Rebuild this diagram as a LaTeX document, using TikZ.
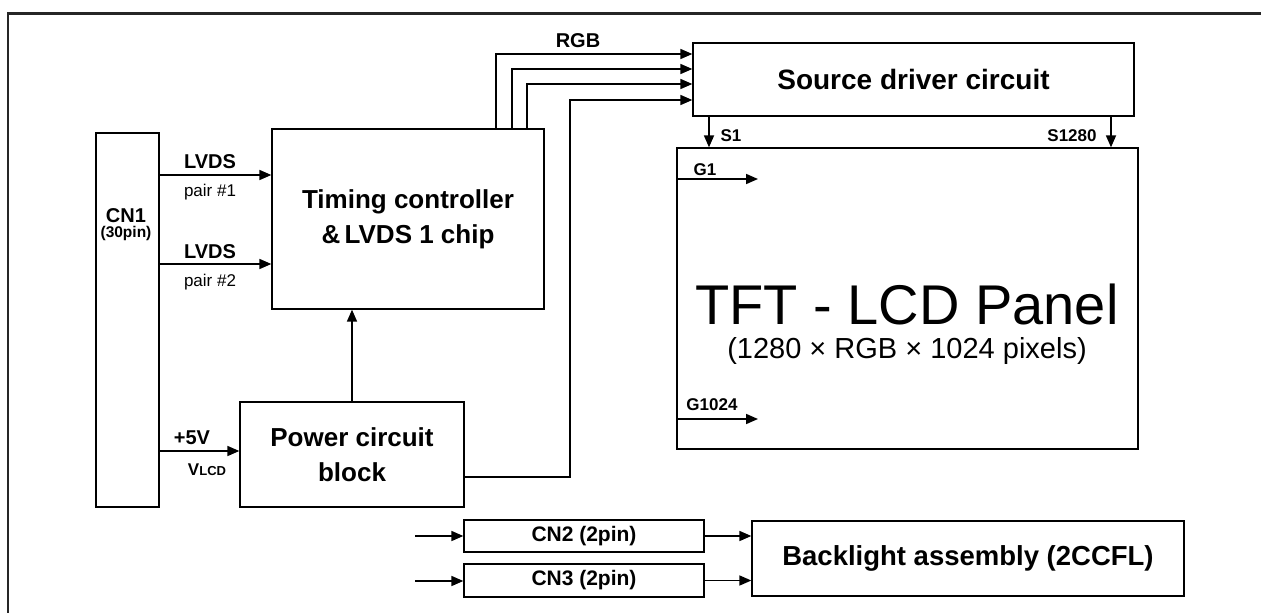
\documentclass[tikz,border=0pt]{standalone}
\usepackage{fontspec}
\setmainfont{Liberation Sans}
\usetikzlibrary{arrows.meta}
\begin{document}
\begin{tikzpicture}[x=1pt,y=-1pt,
  box/.style={draw, line width=1.3pt, inner sep=0pt, align=center},
  arr/.style={line width=1.7pt, -{Triangle[length=12pt,width=10pt]}},
  lbl/.style={inner sep=0pt, font=\bfseries\fontsize{20}{24}\selectfont},
  big/.style={font=\bfseries\fontsize{26}{35}\selectfont}]
\useasboundingbox (0,0) rectangle (1261,613);
\draw[line width=2.2pt, black!85] (8,613) -- (8,13.5) -- (1261,13.5);

% boxes
\node[box, minimum width=63pt, minimum height=374pt] (cn1) at (127.5,320) {};
\node[box, big, minimum width=272pt, minimum height=180pt] (tc) at (408,219) {Timing controller\\\&\,LVDS 1 chip};
\node[box, big, minimum width=224pt, minimum height=105pt] (pw) at (352,454.5) {Power circuit\\block};
\node[box, big, font=\bfseries\fontsize{28}{35}\selectfont, minimum width=441pt, minimum height=73pt] (sd) at (913.5,79.5) {Source driver circuit};
\node[box, minimum width=461pt, minimum height=301pt] (tft) at (907.5,298.5) {};
\node[box, lbl, font=\bfseries\fontsize{21}{24}\selectfont, minimum width=240pt, minimum height=32pt] (cn2) at (584,536) {CN2 (2pin)};
\node[box, lbl, font=\bfseries\fontsize{21}{24}\selectfont, minimum width=240pt, minimum height=33pt] (cn3) at (584,580.5) {CN3 (2pin)};
\node[box, big, font=\bfseries\fontsize{27.5}{35}\selectfont, minimum width=432pt, minimum height=75pt] (bl) at (968,558.5) {Backlight assembly (2CCFL)};

% texts
\node[lbl] (cn1t) at (126,216) {CN1};
\node[lbl, font=\bfseries\fontsize{15.5}{18}\selectfont] (cn1p) at (126,233) {(30pin)};
\node[lbl] (lv1) at (210,162) {LVDS};
\node[inner sep=0pt, font=\fontsize{17}{20}\selectfont] (p1) at (210,192) {pair \#1};
\node[lbl] (lv2) at (210,252) {LVDS};
\node[inner sep=0pt, font=\fontsize{17}{20}\selectfont] (p2) at (210,282) {pair \#2};
\node[lbl] (v5) at (192,438) {+5V};
\node[lbl] (vlcd) at (207,470) {\fontsize{17}{20}\selectfont V\fontsize{13}{16}\selectfont LCD};
\node[lbl] (rgb) at (578,41) {RGB};
\node[lbl, font=\bfseries\fontsize{17}{20}\selectfont] (s1) at (731,136) {S1};
\node[lbl, font=\bfseries\fontsize{17}{20}\selectfont] (s1280) at (1072,136) {S1280};
\node[lbl, font=\bfseries\fontsize{17}{20}\selectfont] (g1) at (705,170) {G1};
\node[lbl, font=\bfseries\fontsize{17}{20}\selectfont] (g1024) at (712,405) {G1024};
\node[inner sep=0pt, font=\fontsize{56}{60}\selectfont] (tftt) at (907,304) {TFT - LCD Panel};
\node[inner sep=0pt, font=\fontsize{29}{32}\selectfont] (tftp) at (907,351) {(1280 × RGB × 1024 pixels)};

% connectors
\draw[arr] (cn1.east |- 0,175) -- (tc.west |- 0,175);
\draw[arr] (cn1.east |- 0,264) -- (tc.west |- 0,264);
\draw[arr] (cn1.east |- 0,451) -- (pw.west |- 0,451);
\draw[arr] (pw.north) -- (tc.south -| pw.north);
\draw[arr] (tc.north -| 496,0) |- (sd.west |- 0,54);
\draw[arr] (tc.north -| 512,0) |- (sd.west |- 0,69);
\draw[arr] (tc.north -| 527,0) |- (sd.west |- 0,84);
\draw[arr] (pw.east |- 0,477) -| (570,100) -- (sd.west |- 0,100);
\draw[arr] (sd.south -| 709,0) -- (tft.north -| 709,0);
\draw[arr] (sd.south -| 1111,0) -- (tft.north -| 1111,0);
\coordinate (g1e) at (758,179);
\coordinate (g1024e) at (758,419);
\draw[arr] (tft.west |- g1e) -- (g1e);
\draw[arr] (tft.west |- g1024e) -- (g1024e);
\coordinate (in2) at (415,536);
\coordinate (in3) at (415,581);
\draw[arr] (in2) -- (cn2.west |- in2);
\draw[arr] (in3) -- (cn3.west |- in3);
\draw[arr] (cn2.east) -- (bl.west |- cn2.east);
\draw[arr] (cn3.east) -- (bl.west |- cn3.east);
\end{tikzpicture}
\end{document}
